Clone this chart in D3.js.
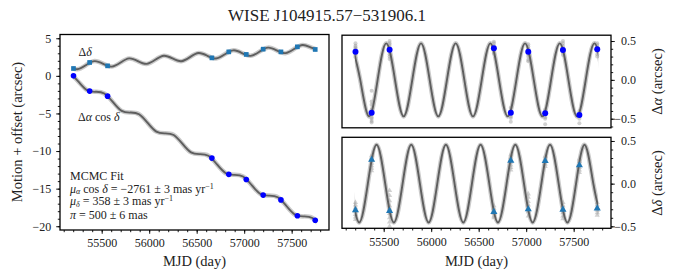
<!DOCTYPE html>
<html><head><meta charset="utf-8">
<script src="https://cdn.jsdelivr.net/npm/d3@7"></script>
<style>
body{margin:0;background:#fff}
svg{display:block;font-family:"Liberation Serif","Times New Roman",serif}
</style></head><body>
<svg id="c" width="674" height="280"></svg>
<script>
// ---------- data ----------
const title = "WISE J104915.57\u2212531906.1";
const epochMjd    = [55203, 55373, 55562, 56660, 56838, 57022, 57200, 57387, 57560, 57748];
const raOffset    = [0.00, -2.03, -2.70, -10.94, -13.10, -13.78, -15.86, -16.50, -18.60, -19.20];
const decOffset   = [0.98, 1.78, 1.33, 2.39, 3.19, 2.85, 3.55, 3.19, 3.86, 3.51];
const raParallax  = [0.362, -0.423, 0.388, 0.406, -0.423, 0.362, -0.430, 0.384, -0.452, 0.393];
const decParallax = [-0.31, 0.28, -0.32, -0.33, 0.27, -0.30, 0.265, -0.305, 0.215, -0.29];
// single-exposure measurements around each epoch (grey)
const raSingle = [
  [0.47, 0.44, 0.42, 0.40, 0.38, 0.35, 0.33, 0.31, 0.29],
  [-0.14, -0.28, -0.32, -0.38, -0.45, -0.48, -0.50, -0.53, -0.55],
  [0.50, 0.47, 0.45, 0.42, 0.40, 0.36, 0.33, 0.30, 0.27],
  [0.49, 0.47, 0.44, 0.42, 0.40, 0.38, 0.36, 0.34],
  [-0.36, -0.40, -0.44, -0.47, -0.49, -0.54],
  [0.46, 0.43, 0.40, 0.36, 0.33, 0.30, 0.26, 0.24],
  [-0.38, -0.41, -0.45, -0.48, -0.50, -0.57],
  [0.50, 0.47, 0.44, 0.41, 0.38, 0.35, 0.32],
  [-0.40, -0.43, -0.47, -0.50, -0.56],
  [0.47, 0.45, 0.42, 0.40, 0.37, 0.33, 0.30]
];
const decSingle = [
  [-0.22, -0.25, -0.28, -0.30, -0.33, -0.36, -0.39, -0.42],
  [0.33, 0.31, 0.29, 0.27, 0.24, 0.21, 0.18, 0.15],
  [-0.08, -0.14, -0.20, -0.26, -0.30, -0.35, -0.40, -0.45, -0.50],
  [-0.26, -0.29, -0.32, -0.35, -0.38, -0.40],
  [0.34, 0.31, 0.28, 0.25, 0.22, 0.19, 0.16],
  [-0.12, -0.16, -0.21, -0.25, -0.29, -0.33, -0.38],
  [0.32, 0.29, 0.26, 0.23, 0.20],
  [-0.22, -0.26, -0.30, -0.34, -0.38, -0.41],
  [0.29, 0.26, 0.23, 0.19, 0.16, 0.13],
  [-0.22, -0.25, -0.28, -0.31, -0.34, -0.37]
];
// MCMC fit curve, read at its turning points and crossings
const raFitMjd = [55162, 55253, 55345, 55436, 55527, 55619, 55710, 55801, 55893, 55984,
                  56075, 56166, 56258, 56349, 56440, 56532, 56623, 56714, 56806, 56897,
                  56988, 57080, 57171, 57262, 57354, 57445, 57536, 57627, 57719, 57810];
const raFitTotal = [0.418, -0.742, -1.902, -2.123, -2.343, -3.503, -4.663, -4.883, -5.104, -6.264,
                    -7.424, -7.644, -7.864, -9.025, -10.185, -10.405, -10.625, -11.786, -12.946, -13.166,
                    -13.386, -14.547, -15.707, -15.927, -16.147, -17.307, -18.468, -18.688, -18.908, -20.068];
const raFitParallax = [0.47, 0, -0.47, 0, 0.47, 0, -0.47, 0, 0.47, 0,
                       -0.47, 0, 0.47, 0, -0.47, 0, 0.47, 0, -0.47, 0,
                       0.47, 0, -0.47, 0, 0.47, 0, -0.47, 0, 0.47, 0];
const decFitMjd = [55151, 55242, 55333, 55425, 55516, 55607, 55699, 55790, 55881, 55973,
                   56064, 56155, 56246, 56338, 56429, 56520, 56612, 56703, 56794, 56886,
                   56977, 57068, 57160, 57251, 57342, 57434, 57525, 57616, 57707, 57799];
const decFitTotal = [1.239, 0.874, 1.418, 1.963, 1.597, 1.232, 1.776, 2.321, 1.955, 1.590,
                     2.134, 2.679, 2.313, 1.948, 2.492, 3.037, 2.671, 2.306, 2.850, 3.395,
                     3.029, 2.664, 3.208, 3.753, 3.387, 3.022, 3.566, 4.111, 3.745, 3.380];
const decFitParallax = [0, -0.455, 0, 0.455, 0, -0.455, 0, 0.455, 0, -0.455,
                        0, 0.455, 0, -0.455, 0, 0.455, 0, -0.455, 0, 0.455,
                        0, -0.455, 0, 0.455, 0, -0.455, 0, 0.455, 0, -0.455];
const fitRange = [55195, 57758];
const xTicks = [55500, 56000, 56500, 57000, 57500];
const xMinorTicks = d3.range(55100, 57900, 100);
const motionTicks = [-20, -15, -10, -5, 0, 5];
const motionMinor = d3.range(-20, 6, 1);
const parTicks = [-0.5, 0, 0.5];
const parMinorA = d3.range(-6, 6).map(v => v / 10);
const parMinorD = d3.range(-5, 6).map(v => v / 10);
const fitText = ["MCMC Fit"];

// ---------- layout ----------
const svg = d3.select("#c");
const xDom = [55061, 57893];
const xL = d3.scaleLinear().domain(xDom).range([60, 329]);
const xR = d3.scaleLinear().domain(xDom).range([342, 611]);
const yL = d3.scaleLinear().domain([-20.5, 5.5]).range([230, 34.5]);
const yA = d3.scaleLinear().domain([-0.617, 0.575]).range([127.8, 35.2]);
const yD = d3.scaleLinear().domain([-0.523, 0.543]).range([228.3, 137.3]);

const defs = svg.append("defs");
function clip(id, xs, ys) {
  defs.append("clipPath").attr("id", id).append("rect")
    .attr("x", xs(fitRange[0])).attr("width", xs(fitRange[1]) - xs(fitRange[0]))
    .attr("y", ys.range()[1]).attr("height", ys.range()[0] - ys.range()[1]);
}
clip("cl", xL, yL); clip("ca", xR, yA); clip("cd", xR, yD);

function fitCurve(xs, ys, mjd, vals, clipId) {
  const pts = mjd.map((m, i) => [m, vals[i]]);
  const line = d3.line().x(d => xs(d[0])).y(d => ys(d[1])).curve(d3.curveNatural);
  const g = svg.append("g").attr("clip-path", `url(#${clipId})`);
  g.append("path").attr("d", line(pts)).attr("fill", "none")
    .attr("stroke", "#b4b4b4").attr("stroke-width", 4.5).attr("stroke-opacity", 0.7);
  g.append("path").attr("d", line(pts)).attr("fill", "none")
    .attr("stroke", "#5e5e5e").attr("stroke-width", 1.9);
}

function frame(xs, ys) {
  svg.append("rect").attr("x", xs.range()[0]).attr("y", ys.range()[1])
    .attr("width", xs.range()[1] - xs.range()[0]).attr("height", ys.range()[0] - ys.range()[1])
    .attr("fill", "none").attr("stroke", "#000").attr("stroke-width", 1.3);
}

function styleAxis(g) {
  g.select(".domain").remove();
  g.selectAll("line").attr("stroke", "#000").attr("stroke-width", 0.9);
  g.selectAll("text").attr("fill", "#222").attr("font-family", "Liberation Serif").attr("font-size", 12);
}

function xAxis(xs, yPos, labels) {
  const gM = svg.append("g").attr("transform", `translate(0,${yPos})`)
    .call(d3.axisBottom(xs).tickValues(xMinorTicks).tickSize(2.2).tickFormat(""));
  styleAxis(gM);
  const g = svg.append("g").attr("transform", `translate(0,${yPos})`)
    .call(d3.axisBottom(xs).tickValues(xTicks).tickSize(3.8).tickPadding(5).tickFormat(labels ? d3.format("d") : ""));
  styleAxis(g);
}

// ---------- left panel ----------
fitCurve(xL, yL, raFitMjd, raFitTotal, "cl");
fitCurve(xL, yL, decFitMjd, decFitTotal, "cl");
svg.append("g").selectAll("path").data(epochMjd).join("path")
  .attr("transform", (d, i) => `translate(${xL(d)},${yL(decOffset[i])})`)
  .attr("d", d3.symbol(d3.symbolSquare, 22)).attr("fill", "#1f77b4");
svg.append("g").selectAll("circle").data(epochMjd).join("circle")
  .attr("cx", d => xL(d)).attr("cy", (d, i) => yL(raOffset[i])).attr("r", 2.8).attr("fill", "#0000ff");
frame(xL, yL);
xAxis(xL, 230, true);
{
  const gM = svg.append("g").attr("transform", "translate(60,0)")
    .call(d3.axisLeft(yL).tickValues(motionMinor).tickSize(2.2).tickFormat(""));
  styleAxis(gM);
  const g = svg.append("g").attr("transform", "translate(60,0)")
    .call(d3.axisLeft(yL).tickValues(motionTicks).tickSize(3.8).tickPadding(5).tickFormat(d3.format("d")));
  styleAxis(g);
}

// ---------- right top panel (RA parallax) ----------
svg.append("g").selectAll("g").data(epochMjd).join("g").each(function (m, i) {
  d3.select(this).selectAll("circle").data(raSingle[i]).join("circle")
    .attr("cx", xR(m)).attr("cy", v => yA(v)).attr("r", 2).attr("fill", "#8c8c8c").attr("fill-opacity", 0.4);
});
fitCurve(xR, yA, raFitMjd, raFitParallax, "ca");
svg.append("g").selectAll("circle").data(epochMjd).join("circle")
  .attr("cx", d => xR(d)).attr("cy", (d, i) => yA(raParallax[i])).attr("r", 3).attr("fill", "#0000ff");
frame(xR, yA);
{
  const gM = svg.append("g").attr("transform", "translate(611,0)")
    .call(d3.axisRight(yA).tickValues(parMinorA).tickSize(2.2).tickFormat(""));
  styleAxis(gM);
  const g = svg.append("g").attr("transform", "translate(611,0)")
    .call(d3.axisRight(yA).tickValues(parTicks).tickSize(3.8).tickFormat(d3.format(".1f")));
  styleAxis(g);
  g.selectAll("text").attr("text-anchor", "end").attr("x", 25);
}

// ---------- right bottom panel (Dec parallax) ----------
svg.append("g").selectAll("g").data(epochMjd).join("g").each(function (m, i) {
  d3.select(this).selectAll("path").data(decSingle[i]).join("path")
    .attr("transform", v => `translate(${xR(m)},${yD(v)})`)
    .attr("d", d3.symbol(d3.symbolTriangle, 12)).attr("fill", "#8c8c8c").attr("fill-opacity", 0.4);
});
fitCurve(xR, yD, decFitMjd, decFitParallax, "cd");
svg.append("g").selectAll("path").data(epochMjd).join("path")
  .attr("transform", (d, i) => `translate(${xR(d)},${yD(decParallax[i])})`)
  .attr("d", d3.symbol(d3.symbolTriangle, 22)).attr("fill", "#1f77b4");
frame(xR, yD);
xAxis(xR, 228.3, true);
{
  const gM = svg.append("g").attr("transform", "translate(611,0)")
    .call(d3.axisRight(yD).tickValues(parMinorD).tickSize(2.2).tickFormat(""));
  styleAxis(gM);
  const g = svg.append("g").attr("transform", "translate(611,0)")
    .call(d3.axisRight(yD).tickValues(parTicks).tickSize(3.8).tickFormat(d3.format(".1f")));
  styleAxis(g);
  g.selectAll("text").attr("text-anchor", "end").attr("x", 25);
}

// ---------- texts ----------
const txt = (x, y, size) => svg.append("text").attr("x", x).attr("y", y)
  .attr("font-size", size).attr("fill", "#222");
txt(327, 20.5, 17).attr("text-anchor", "middle").text(title);
txt(194.5, 265.5, 14.5).attr("text-anchor", "middle").text("MJD (day)");
txt(476.5, 265.5, 14.5).attr("text-anchor", "middle").text("MJD (day)");
txt(0, 0, 14.5).attr("text-anchor", "middle").attr("transform", "translate(21.5,132) rotate(-90)")
  .text("Motion + offset (arcsec)");
function rlabel(y, greek) {
  const t = txt(0, 0, 14.5).attr("text-anchor", "middle").attr("transform", `translate(662,${y}) rotate(-90)`);
  t.append("tspan").text("\u0394");
  t.append("tspan").attr("font-style", "italic").text(greek);
  t.append("tspan").text(" (arcsec)");
}
rlabel(81.5, "\u03b1");
rlabel(183, "\u03b4");

// panel labels
{
  const t = txt(78.5, 56, 12);
  t.append("tspan").text("\u0394");
  t.append("tspan").attr("font-style", "italic").text("\u03b4");
  const t2 = txt(78, 121, 12);
  t2.append("tspan").text("\u0394");
  t2.append("tspan").attr("font-style", "italic").text("\u03b1");
  t2.append("tspan").text(" cos ");
  t2.append("tspan").attr("font-style", "italic").text("\u03b4");
}
// fit annotation
{
  const fs = 12, ss = 8;
  txt(70, 180, fs).text(fitText[0]);
  const a = txt(70, 192.5, fs);
  a.append("tspan").attr("font-style", "italic").text("\u03bc");
  a.append("tspan").attr("font-style", "italic").attr("font-size", ss).attr("dy", 1.8).text("\u03b1");
  a.append("tspan").attr("dy", -1.8).text(" cos ");
  a.append("tspan").attr("font-style", "italic").text("\u03b4");
  a.append("tspan").text(" = \u22122761 \u00b1 3 mas yr");
  a.append("tspan").attr("font-size", ss).attr("dy", -4).text("\u22121");
  const b = txt(70, 205, fs);
  b.append("tspan").attr("font-style", "italic").text("\u03bc");
  b.append("tspan").attr("font-style", "italic").attr("font-size", ss).attr("dy", 1.8).text("\u03b4");
  b.append("tspan").attr("dy", -1.8).text(" = 358 \u00b1 3 mas yr");
  b.append("tspan").attr("font-size", ss).attr("dy", -4).text("\u22121");
  const c = txt(70, 218.5, fs);
  c.append("tspan").attr("font-style", "italic").text("\u03c0");
  c.append("tspan").text(" = 500 \u00b1 6 mas");
}
</script>
</body></html>
